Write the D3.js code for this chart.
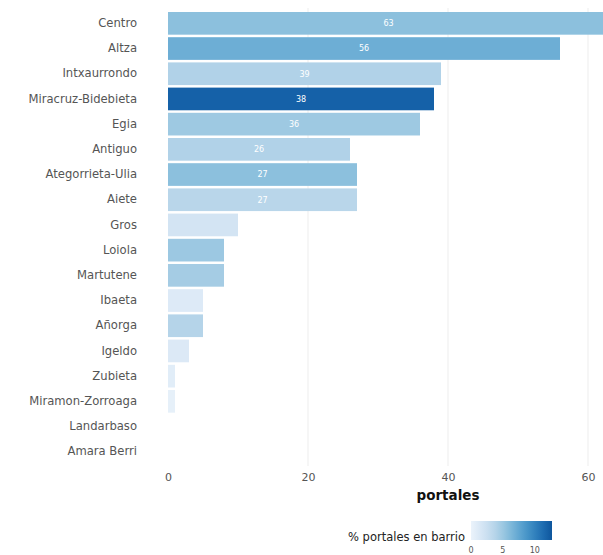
<!DOCTYPE html>
<html>
<head>
<meta charset="utf-8">
<script src="https://cdn.jsdelivr.net/npm/d3@7"></script>
<style>
  html, body { margin: 0; padding: 0; background: #fff; }
  svg { display: block; }
</style>
</head>
<body>
<svg id="chart" width="603" height="555"></svg>
<script>
const barrios = ["Centro","Altza","Intxaurrondo","Miracruz-Bidebieta","Egia","Antiguo","Ategorrieta-Ulia","Aiete","Gros","Loiola","Martutene","Ibaeta","Añorga","Igeldo","Zubieta","Miramon-Zorroaga","Landarbaso","Amara Berri"];
const portales = [63,56,39,38,36,26,27,27,10,8,8,5,5,3,1,1,0,0];
const pctBarrio = [5.7,7.0,4.0,12.0,4.9,4.0,5.7,3.6,1.9,5.0,4.6,1.1,3.8,1.2,0.8,0.4,0,0];
const xTicks = [0,20,40,60];
const legendTicks = [0,5,10];

const svg = d3.select("#chart");
const font = "DejaVu Sans, sans-serif";

const x = d3.scaleLinear().domain([0,60]).range([168,588]);
const y = d3.scaleBand().domain(barrios).range([10.74, 10.74 + 25.2*18])
  .paddingInner(0.1).paddingOuter(0.05);
const color = d3.scaleSequential(d3.interpolateBlues).domain([-1,15]);

// grid
svg.append("g").selectAll("line").data(xTicks.slice(1)).join("line")
  .attr("x1", d => x(d)).attr("x2", d => x(d))
  .attr("y1", 8).attr("y2", 466)
  .attr("stroke", "#ededed").attr("stroke-width", 1);

// bars
const data = barrios.map((b,i) => ({b, v: portales[i], p: pctBarrio[i]}));
svg.append("g").selectAll("rect").data(data).join("rect")
  .attr("x", x(0)).attr("y", d => y(d.b))
  .attr("width", d => x(d.v) - x(0)).attr("height", y.bandwidth())
  .attr("fill", d => color(d.p));

// value labels
svg.append("g").selectAll("text").data(data.filter(d => d.v >= 20)).join("text")
  .attr("x", d => x(d.v/2)).attr("y", d => y(d.b) + y.bandwidth()/2)
  .attr("dy", "0.35em").attr("text-anchor", "middle")
  .attr("fill", "#fff").attr("font-family", font).attr("font-size", 8)
  .text(d => d.v);

// y axis labels
const yAxis = d3.axisLeft(y).tickSize(0).tickPadding(0);
const gy = svg.append("g").attr("transform", "translate(137,0)").call(yAxis);
gy.select(".domain").remove();
gy.selectAll("text").attr("font-family", font).attr("font-size", 11.6).attr("fill", "#555");

// x axis labels
const xAxis = d3.axisBottom(x).tickValues(xTicks).tickSize(0).tickPadding(0);
const gx = svg.append("g").attr("transform", "translate(0,473)").call(xAxis);
gx.select(".domain").remove();
gx.selectAll("text").attr("font-family", font).attr("font-size", 11).attr("fill", "#555");

svg.append("text").attr("x", 448).attr("y", 500).attr("text-anchor", "middle")
  .attr("font-family", font).attr("font-weight", "bold").attr("font-size", 13.5)
  .attr("fill", "#111").text("portales");

// legend
const lx = d3.scaleLinear().domain([0,12.7]).range([471,552]);
const defs = svg.append("defs");
const grad = defs.append("linearGradient").attr("id","lg").attr("x1","0%").attr("x2","100%");
d3.range(0,1.0001,0.1).forEach(t => {
  grad.append("stop").attr("offset", (t*100)+"%").attr("stop-color", color(t*12.7));
});
svg.append("rect").attr("x", lx(0)).attr("y", 521).attr("width", lx(12.7)-lx(0)).attr("height", 19)
  .attr("fill", "url(#lg)");
svg.append("g").selectAll("text").data(legendTicks).join("text")
  .attr("x", d => lx(d)).attr("y", 553).attr("text-anchor","middle")
  .attr("font-family", font).attr("font-size", 8).attr("fill", "#555").text(d => d);
svg.append("text").attr("x", 465).attr("y", 541).attr("text-anchor","end")
  .attr("font-family", font).attr("font-size", 11.5).attr("fill", "#222")
  .text("% portales en barrio");
</script>
</body>
</html>
